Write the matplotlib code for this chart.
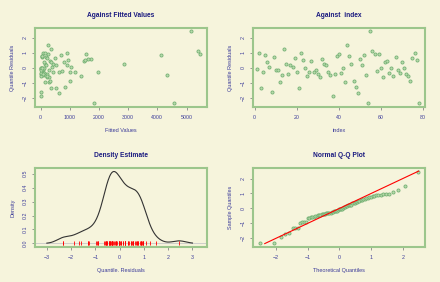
import numpy as np
import matplotlib.pyplot as plt
from statistics import NormalDist

# quantile residuals in observation order
residuals = [-0.11, 0.95, -1.32, -0.31, 0.86, 0.35, 0.07, -1.61, 0.73, -0.15,
             -0.18, -0.93, -0.46, 1.26, 0.24, -0.40, 0.15, 0.07, 0.66, -0.26,
             -1.32, 0.95, 0.49, -0.02, -0.55, -0.31, 0.46, -0.31, -0.15, -0.40,
             -0.62, 0.55, 0.24, 0.20, -0.31, -0.51, -1.90, -0.42, 0.75, 0.88,
             -0.33, 0.00, -0.97, 1.50, 0.75, 0.24, -0.88, -1.28, -1.68, 0.55,
             0.15, 0.84, -0.51, -2.32, 2.45, 1.08, 0.88, -0.24, 0.90, -0.04,
             -0.64, 0.38, 0.46, -0.35, -0.02, -0.55, 0.73, -0.15, -0.38, 0.35,
             -0.02, -0.44, -0.55, -0.88, 0.62, 0.95, 0.53, -2.32]

fitted = [5, 80, 540, 620, 700, 790, 390, 10, 35, 100,
          60, 275, 80, 360, 425, 0, 540, 1050, 500, 410,
          360, 890, 930, 50, 0, 1020, 330, 1190, 275, 170,
          220, 1720, 150, 910, 1980, 160, 10, 220, 60, 5460,
          35, 0, 140, 240, 40, 2860, 310, 830, 630, 1620,
          180, 4140, 4340, 4580, 5150, 5390, 250, 750, 1560, 0,
          290, 130, 1480, 20, 120, 1370, 200, 0, 110, 360,
          60, 80, 220, 1020, 220, 150, 1530, 1820]

BG = '#F6F4DC'
BOX = '#9CC68C'
TXT = '#3C3C9A'
TITLE = '#1A1A80'

res = np.array(residuals)
fit = np.array(fitted)
idx = np.arange(1, len(res) + 1)

plt.rcParams['font.family'] = 'Liberation Sans'
fig = plt.figure(figsize=(4.4, 2.82), dpi=100, facecolor=BG)

w, h = 0.391, 0.280
axes = [fig.add_axes([0.0795, 0.621, w, h]),
        fig.add_axes([0.575, 0.621, w, h]),
        fig.add_axes([0.0795, 0.124, w, h]),
        fig.add_axes([0.575, 0.124, w, h])]


def style(ax, title, xlabel, ylabel):
    ax.set_facecolor(BG)
    for s in ax.spines.values():
        s.set_color(BOX)
        s.set_linewidth(1.5)
    ax.tick_params(colors='#888888', labelcolor=TXT, labelsize=3.8,
                   length=2.5, width=0.6, pad=3)
    for lab in ax.get_yticklabels():
        lab.set_rotation(90)
        lab.set_va('center')
    ax.set_title(title, fontsize=4.8, fontweight='bold', color=TITLE, pad=8)
    ax.set_xlabel(xlabel, fontsize=4.0, color=TXT, labelpad=6)
    ax.set_ylabel(ylabel, fontsize=4.0, color=TXT, labelpad=5)


pt_kw = dict(s=5, facecolor='#B8DAAA', edgecolor='#74B074', linewidths=0.6)

# against fitted values
ax = axes[0]
ax.scatter(fit, res, **pt_kw)
ax.set_xlim(-190, 5700)
ax.set_ylim(-2.6, 2.64)
ax.set_xticks([0, 1000, 2000, 3000, 4000, 5000])
ax.set_yticks([-2, -1, 0, 1, 2])
style(ax, 'Against Fitted Values', 'Fitted Values', 'Quantile Residuals')

# against index
ax = axes[1]
ax.scatter(idx, res, **pt_kw)
ax.set_xlim(-0.8, 81)
ax.set_ylim(-2.6, 2.64)
ax.set_xticks([0, 20, 40, 60, 80])
ax.set_yticks([-2, -1, 0, 1, 2])
style(ax, 'Against  index', 'index', 'Quantile Residuals')

# density estimate (gaussian kernel, rule-of-thumb bandwidth)
ax = axes[2]
n = len(res)
iqr = np.percentile(res, 75) - np.percentile(res, 25)
bw = 0.9 * min(res.std(ddof=1), iqr / 1.34) * n ** -0.2
xs = np.linspace(-3, 3, 300)
dens = np.exp(-0.5 * ((xs[:, None] - res[None, :]) / bw) ** 2).sum(axis=1)
dens /= n * bw * np.sqrt(2 * np.pi)
ax.axhline(0, color='#C8C8C8', lw=0.6)
ax.plot(xs, dens, color='#333333', lw=0.8)
ax.plot(res, np.zeros_like(res), '|', color='red', ms=3, mew=0.6)
ax.set_xlim(-3.49, 3.6)
ax.set_ylim(-0.026, 0.54)
ax.set_xticks([-3, -2, -1, 0, 1, 2, 3])
ax.set_yticks([0.0, 0.1, 0.2, 0.3, 0.4, 0.5])
style(ax, 'Density Estimate', 'Quantile. Residuals', 'Density')

# normal Q-Q plot
ax = axes[3]
nd = NormalDist()
a = 0.375 if n <= 10 else 0.5
pp = (np.arange(1, n + 1) - a) / (n + 1 - 2 * a)
theo = np.array([nd.inv_cdf(p) for p in pp])
samp = np.sort(res)
ax.scatter(theo, samp, **pt_kw)
ax.plot([-2.35, 2.5], [-2.35, 2.5], color='red', lw=0.8)
ax.set_xlim(-2.72, 2.7)
ax.set_ylim(-2.58, 2.7)
ax.set_xticks([-2, -1, 0, 1, 2])
ax.set_yticks([-2, -1, 0, 1, 2])
style(ax, 'Normal Q-Q Plot', 'Theoretical Quantiles', 'Sample Quantiles')

fig.savefig('out.png', dpi=100, facecolor=BG)
